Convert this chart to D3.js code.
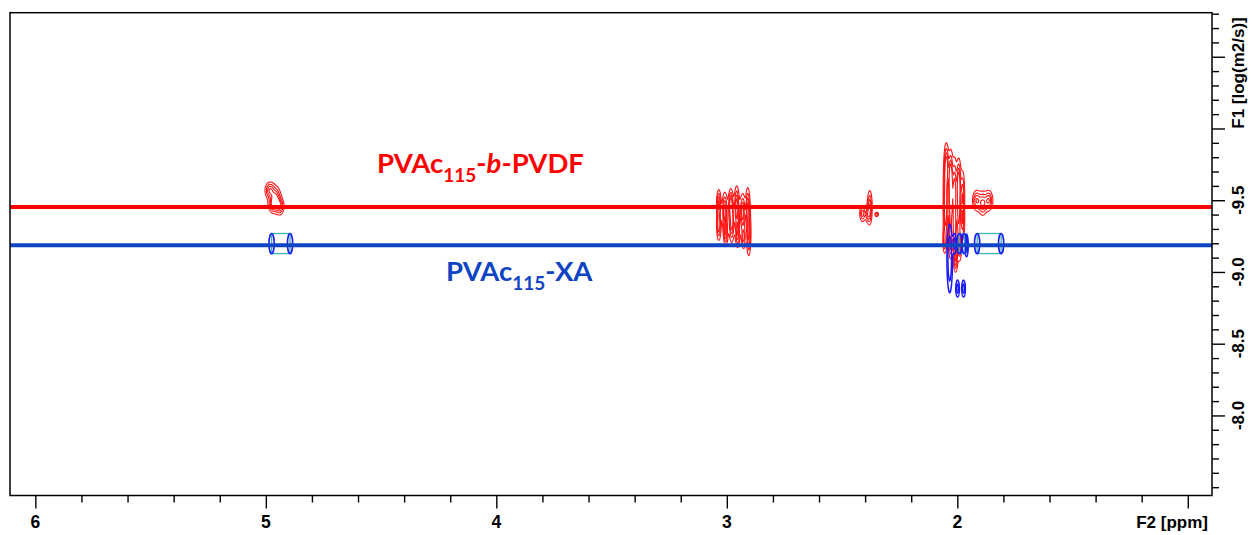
<!DOCTYPE html>
<html>
<head>
<meta charset="utf-8">
<script src="https://cdn.jsdelivr.net/npm/d3@7"></script>
<style>
  html, body { margin: 0; padding: 0; background: #fff; }
  svg { display: block; }
</style>
</head>
<body>
<svg id="chart" width="1252" height="535"></svg>
<script>
// ---- axes -------------------------------------------------------------
const ppmDomain = [6.11, 0.895];          // F2, chemical shift (reversed)
const logDDomain = [-10.807, -7.442];     // F1, log diffusion coefficient
const ppmMajorTicks = [6, 5, 4, 3, 2, 1];
const ppmTickLabels = ["6", "5", "4", "3", "2", ""];
const logDMajorTicks = [-10.5, -10.0, -9.5, -9.0, -8.5, -8.0];
const logDTickLabels = ["", "", "-9.5", "-9.0", "-8.5", "-8.0"];

// ---- diffusion levels of the two samples ------------------------------
const seriesNames = ["PVAc115-b-PVDF", "PVAc115-XA"];
const seriesLogD = [-9.453, -9.186];
const seriesColors = ["#ff0000", "#0f44c4"];

// ---- PVAc115-b-PVDF cross peaks: [ppm, logD, sd ppm, sd logD, height] --
const redPeaks = [
  // 4.96 ppm
  [4.983, -9.570, 0.013, 0.035, 1.0],
  [4.957, -9.514, 0.013, 0.049, 1.0],
  [4.940, -9.458, 0.011, 0.035, 0.9],
  [4.970, -9.472, 0.013, 0.035, 0.9],
  // 2.97 ppm
  [2.967, -9.396, 0.043, 0.105, 0.3],
  [3.036, -9.479, 0.0056, 0.056, 1.0],
  [3.036, -9.326, 0.0056, 0.063, 0.9],
  [3.010, -9.431, 0.0061, 0.070, 1.0],
  [3.006, -9.277, 0.0056, 0.056, 0.9],
  [2.984, -9.479, 0.0056, 0.056, 1.0],
  [2.980, -9.347, 0.0061, 0.077, 1.0],
  [2.958, -9.465, 0.0056, 0.077, 1.0],
  [2.954, -9.277, 0.0056, 0.063, 0.9],
  [2.932, -9.417, 0.0061, 0.070, 1.0],
  [2.928, -9.242, 0.0056, 0.049, 0.8],
  [2.910, -9.444, 0.0056, 0.084, 1.0],
  [2.906, -9.256, 0.0056, 0.084, 1.0],
  // 2.38 ppm
  [2.381, -9.452, 0.0065, 0.070, 1.0],
  [2.412, -9.410, 0.0078, 0.035, 0.9],
  [2.390, -9.403, 0.0065, 0.035, 0.7],
  [2.351, -9.403, 0.0056, 0.0105, 0.7],
  // 2.03 ppm
  [2.013, -9.465, 0.026, 0.209, 0.25],
  [2.047, -9.745, 0.0056, 0.084, 0.9],
  [2.052, -9.605, 0.0056, 0.140, 1.0],
  [2.052, -9.396, 0.0056, 0.105, 0.9],
  [2.056, -9.221, 0.0052, 0.056, 0.7],
  [2.030, -9.675, 0.0056, 0.098, 1.0],
  [2.030, -9.465, 0.0061, 0.154, 1.0],
  [2.030, -9.221, 0.0052, 0.070, 0.8],
  [2.013, -9.570, 0.0056, 0.126, 1.0],
  [2.013, -9.291, 0.0056, 0.112, 1.0],
  [2.008, -9.096, 0.0052, 0.056, 0.9],
  [1.995, -9.640, 0.0056, 0.084, 0.9],
  [1.995, -9.431, 0.0056, 0.140, 1.0],
  [1.991, -9.186, 0.0052, 0.063, 0.8],
  [1.978, -9.535, 0.0052, 0.098, 0.9],
  [1.978, -9.347, 0.0052, 0.070, 0.8],
  // 1.89 ppm
  [1.917, -9.500, 0.011, 0.042, 1.0],
  [1.891, -9.479, 0.011, 0.049, 1.0],
  [1.865, -9.500, 0.011, 0.042, 1.0]
];

// ---- PVAc115-XA cross peaks ------------------------------------------
const bluePeaks = [
  [2.034, -9.096, 0.0078, 0.154, 1.0],
  [2.013, -9.200, 0.0052, 0.049, 0.8],
  [1.961, -9.186, 0.0052, 0.056, 0.8],
  [2.000, -8.886, 0.0056, 0.042, 0.8],
  [1.974, -8.886, 0.0056, 0.042, 0.8]
];
// flat-topped peaks: [ppm, logD, half width ppm, half height logD]
const blueCapsules = [
  [4.935, -9.198, 0.040, 0.070],
  [1.862, -9.198, 0.052, 0.070],
  [1.980, -9.198, 0.011, 0.070]
];

const contourLevels = [0.25, 0.5, 0.75, 1.0];
const blueLevels = [0.3, 0.6];

// ---- layout ----------------------------------------------------------
const frame = { left: 10, right: 1212, top: 12.7, bottom: 495.5 };
const svg = d3.select("#chart");
const axisFont = "'Liberation Sans', Arial, Helvetica, sans-serif";
const labelFont = "Lato, 'Open Sans', sans-serif";

const x = d3.scaleLinear().domain(ppmDomain).range([frame.left, frame.right]);
const y = d3.scaleLinear().domain(logDDomain).range([frame.top, frame.bottom]);

// ---- contour field from gaussian peak shapes --------------------------
function peakContours(peaks, levels, res) {
  const nx = Math.ceil((frame.right - frame.left) / res) + 1;
  const ny = Math.ceil((frame.bottom - frame.top) / res) + 1;
  const values = new Float64Array(nx * ny);
  for (const [p, d, sp, sd, h] of peaks) {
    const cx = x(p), cy = y(d);
    const sx = Math.abs(x(p + sp) - cx), sy = Math.abs(y(d + sd) - cy);
    const i0 = Math.max(0, Math.floor((cx - 4 * sx - frame.left) / res));
    const i1 = Math.min(nx - 1, Math.ceil((cx + 4 * sx - frame.left) / res));
    const j0 = Math.max(0, Math.floor((cy - 4 * sy - frame.top) / res));
    const j1 = Math.min(ny - 1, Math.ceil((cy + 4 * sy - frame.top) / res));
    for (let j = j0; j <= j1; j++) {
      const py = frame.top + j * res;
      const ey = ((py - cy) / sy) ** 2;
      for (let i = i0; i <= i1; i++) {
        const px = frame.left + i * res;
        values[j * nx + i] += h * Math.exp(-0.5 * (((px - cx) / sx) ** 2 + ey));
      }
    }
  }
  const contours = d3.contours().size([nx, ny]).thresholds(levels)(values);
  const path = d3.geoPath(d3.geoIdentity().scale(res).translate([frame.left, frame.top]));
  return { contours, path };
}

const plot = svg.append("g");

// red contours
{
  const { contours, path } = peakContours(redPeaks, contourLevels, 0.5);
  plot.append("g")
    .attr("fill", "none")
    .attr("stroke", "#ff1414")
    .attr("stroke-width", 1.1)
    .selectAll("path")
    .data(contours)
    .join("path")
    .attr("d", path);
}

// blue contours
{
  const { contours, path } = peakContours(bluePeaks, blueLevels, 0.5);
  plot.append("g")
    .attr("fill", "none")
    .attr("stroke", "#1a1aff")
    .attr("stroke-width", 1.5)
    .selectAll("path")
    .data(contours)
    .join("path")
    .attr("d", path);
}

// flat-topped blue peaks: cyan body with blue end caps
const caps = plot.append("g").selectAll("g").data(blueCapsules).join("g");
caps.append("rect")
  .attr("x", d => x(d[0] + d[2]))
  .attr("y", d => y(d[1] - d[3]))
  .attr("width", d => x(d[0] - d[2]) - x(d[0] + d[2]))
  .attr("height", d => y(d[1] + d[3]) - y(d[1] - d[3]))
  .attr("fill", "none")
  .attr("stroke", "#3cb4b4")
  .attr("stroke-width", 1.3);
caps.selectAll("ellipse")
  .data(d => [[d[0] + d[2], d[1], d[3]], [d[0] - d[2], d[1], d[3]]])
  .join("ellipse")
  .attr("cx", d => x(d[0]))
  .attr("cy", d => y(d[1]))
  .attr("rx", 2.6)
  .attr("ry", d => (y(d[1] + d[2]) - y(d[1] - d[2])) / 2)
  .attr("fill", "none")
  .attr("stroke", "#1a1aff")
  .attr("stroke-width", 1.6);

// diffusion level lines
plot.append("g")
  .selectAll("line")
  .data(seriesLogD)
  .join("line")
  .attr("x1", frame.left)
  .attr("x2", frame.right)
  .attr("y1", d => y(d))
  .attr("y2", d => y(d))
  .attr("stroke", (d, i) => seriesColors[i])
  .attr("stroke-width", 4);

// frame
svg.append("rect")
  .attr("x", frame.left).attr("y", frame.top)
  .attr("width", frame.right - frame.left)
  .attr("height", frame.bottom - frame.top)
  .attr("fill", "none").attr("stroke", "#000").attr("stroke-width", 1.5);

// ---- bottom axis (F2) -------------------------------------------------
const ppmMinor = d3.range(6, 0.99, -0.2).filter(v => Math.abs(v - Math.round(v)) > 1e-6);
function styleAxis(g) {
  g.select(".domain").remove();
  g.selectAll(".tick line").attr("stroke", "#000").attr("stroke-width", 1.4);
}
svg.append("g")
  .attr("transform", `translate(0,${frame.bottom})`)
  .call(d3.axisBottom(x).tickValues(ppmMinor).tickSize(7).tickFormat(""))
  .call(styleAxis);
svg.append("g")
  .attr("transform", `translate(0,${frame.bottom})`)
  .call(d3.axisBottom(x).tickValues(ppmMajorTicks).tickSize(13).tickFormat(""))
  .call(styleAxis);
svg.append("g")
  .selectAll("text")
  .data(ppmMajorTicks)
  .join("text")
  .attr("x", d => x(d))
  .attr("y", 528)
  .attr("text-anchor", "middle")
  .attr("font-family", axisFont)
  .attr("font-weight", "bold")
  .attr("font-size", 17.5)
  .text((d, i) => ppmTickLabels[i]);
svg.append("text")
  .attr("x", 1208).attr("y", 528)
  .attr("text-anchor", "end")
  .attr("font-family", axisFont)
  .attr("font-weight", "bold")
  .attr("font-size", 17)
  .text("F2 [ppm]");

// ---- right axis (F1) --------------------------------------------------
const logDMinor = d3.range(-10.8, -7.45, 0.1)
  .map(v => Math.round(v * 10) / 10)
  .filter(v => Math.abs(v * 2 - Math.round(v * 2)) > 1e-6 || v === -7.5);
svg.append("g")
  .attr("transform", `translate(${frame.right},0)`)
  .call(d3.axisRight(y).tickValues(logDMinor).tickSize(7).tickFormat(""))
  .call(styleAxis);
svg.append("g")
  .attr("transform", `translate(${frame.right},0)`)
  .call(d3.axisRight(y).tickValues(logDMajorTicks).tickSize(13).tickFormat(""))
  .call(styleAxis);
svg.append("g")
  .selectAll("text")
  .data(logDMajorTicks)
  .join("text")
  .attr("transform", d => `translate(1244,${y(d)}) rotate(-90)`)
  .attr("text-anchor", "middle")
  .attr("font-family", axisFont)
  .attr("font-weight", "bold")
  .attr("font-size", 17)
  .text((d, i) => logDTickLabels[i]);
svg.append("text")
  .attr("transform", "translate(1244,73) rotate(-90)")
  .attr("text-anchor", "middle")
  .attr("font-family", axisFont)
  .attr("font-weight", "bold")
  .attr("font-size", 17)
  .text("F1 [log(m2/s)]");

// ---- sample labels ----------------------------------------------------
const red = svg.append("text")
  .attr("x", 377).attr("y", 173)
  .attr("font-family", labelFont)
  .attr("font-weight", "bold")
  .attr("font-size", 27.5)
  .attr("fill", seriesColors[0]);
red.append("tspan").text("PVAc");
red.append("tspan").attr("font-size", 19).attr("dy", 9).text("115");
red.append("tspan").attr("dy", -9).text("-");
red.append("tspan").attr("font-style", "italic").text("b");
red.append("tspan").text("-PVDF");

const blue = svg.append("text")
  .attr("x", 446).attr("y", 281)
  .attr("font-family", labelFont)
  .attr("font-weight", "bold")
  .attr("font-size", 27.5)
  .attr("fill", seriesColors[1]);
blue.append("tspan").text("PVAc");
blue.append("tspan").attr("font-size", 19).attr("dy", 9).text("115");
blue.append("tspan").attr("dy", -9).text("-XA");
</script>
</body>
</html>
